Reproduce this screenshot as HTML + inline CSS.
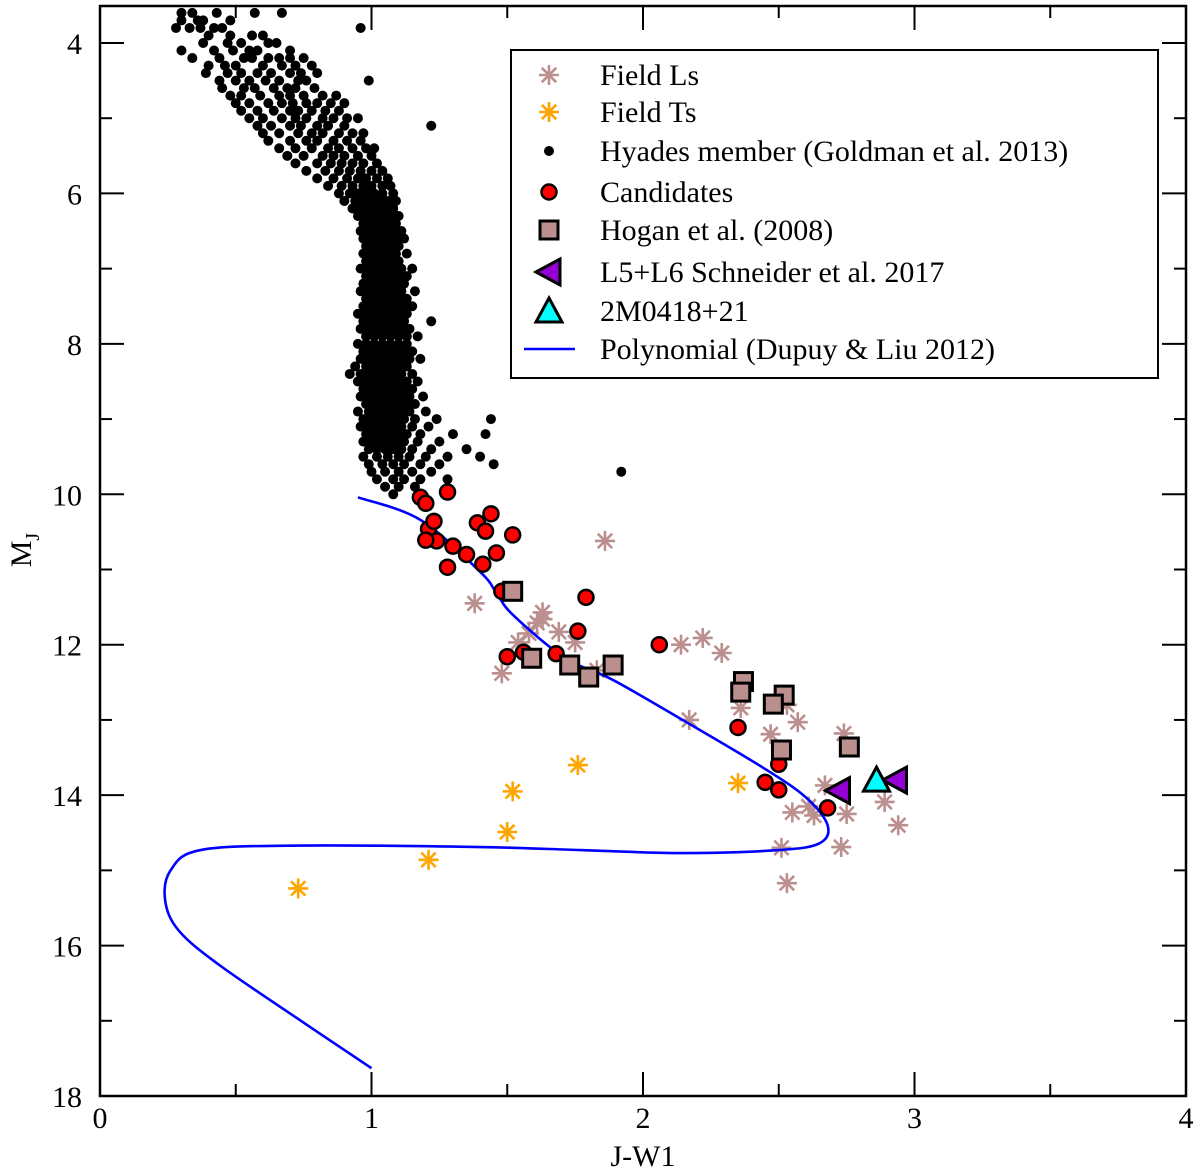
<!DOCTYPE html>
<html><head><meta charset="utf-8"><style>
body{margin:0;background:#fff}
svg{display:block;font-family:"Liberation Serif",serif}
</style></head><body>
<svg id="chart" width="1200" height="1172" viewBox="0 0 1200 1172" xmlns="http://www.w3.org/2000/svg">
<g id="marks"></g>
<g id="axes"></g>
<g id="legend"></g>
</svg>
<script>
const xTicks=[0,1,2,3,4];
const yTicks=[4,6,8,10,12,14,16,18];
const hyadesRows=[
[3.6,0.30,0.34,0.43,0.57,0.67],[3.7,0.30,0.36,0.38,0.48],[3.8,0.28,0.33,0.37,0.42,0.45,0.96],
[3.9,0.40,0.48,0.56,0.60],[4.0,0.38,0.47,0.52,0.62,0.65],[4.1,0.30,0.42,0.49,0.55,0.58,0.70],
[4.2,0.34,0.44,0.53,0.56,0.62,0.66,0.70,0.75],[4.3,0.40,0.46,0.50,0.60,0.67,0.72,0.78],
[4.4,0.39,0.47,0.52,0.58,0.63,0.70,0.74,0.80],[4.5,0.44,0.50,0.55,0.61,0.66,0.73,0.76,0.99],
[4.6,0.45,0.53,0.57,0.64,0.69,0.72,0.79],[4.7,0.48,0.52,0.59,0.66,0.70,0.75,0.82,0.87],
[4.8,0.50,0.55,0.62,0.67,0.71,0.76,0.80,0.85,0.90],[4.9,0.52,0.58,0.64,0.70,0.73,0.78,0.83,0.88],
[5.0,0.55,0.60,0.67,0.72,0.76,0.82,0.86,0.91,0.95],[5.1,0.58,0.63,0.70,0.74,0.80,0.84,0.90,1.22],
[5.2,0.60,0.66,0.73,0.78,0.82,0.88,0.93,0.97],[5.3,0.62,0.70,0.76,0.80,0.86,0.91,0.96],
[5.4,0.66,0.72,0.78,0.84,0.88,0.93,0.98,1.01],[5.5,0.69,0.75,0.82,0.86,0.90,0.95,1.00],
[5.6,0.72,0.80,0.85,0.89,0.93,0.97,1.02],[5.7,0.76,0.83,0.88,0.92,0.96,1.00,1.04],
[5.8,0.80,0.86,0.91,0.95,0.98,1.02,1.06],[5.9,0.84,0.89,0.93,0.97,1.00,1.04,1.07],
[6.0,0.88,0.92,0.95,0.98,1.01,1.04,1.08],[6.1,0.90,0.94,0.97,1.00,1.03,1.06,1.09],
[6.2,0.93,0.96,0.99,1.02,1.05,1.08],[6.3,0.95,0.98,1.01,1.04,1.07,1.10],
[6.4,0.97,1.00,1.03,1.06,1.09],[6.5,0.96,0.99,1.02,1.05,1.08,1.11],
[6.6,0.97,1.00,1.03,1.06,1.09,1.12],[6.7,0.98,1.01,1.04,1.07,1.10],
[6.8,0.97,1.00,1.03,1.06,1.09,1.13],[6.9,0.98,1.01,1.04,1.07,1.10],
[7.0,0.96,0.99,1.02,1.05,1.08,1.11,1.15],[7.1,0.98,1.01,1.04,1.07,1.10,1.13],
[7.2,0.97,1.00,1.03,1.06,1.09,1.12],[7.3,0.96,0.99,1.02,1.05,1.08,1.11,1.16],
[7.4,0.98,1.01,1.04,1.07,1.10,1.13],[7.5,0.97,1.00,1.03,1.06,1.09,1.12,1.15],
[7.6,0.95,0.98,1.01,1.04,1.07,1.10,1.13],[7.7,0.97,1.00,1.03,1.06,1.09,1.12,1.22],
[7.8,0.96,0.99,1.02,1.05,1.08,1.11,1.14],[7.9,0.98,1.01,1.04,1.07,1.10,1.13,1.17],
[8.0,0.95,0.98,1.01,1.04,1.07,1.10,1.13],[8.1,0.97,1.00,1.03,1.06,1.09,1.12,1.15],
[8.2,0.96,0.99,1.02,1.05,1.08,1.11,1.14,1.18],[8.3,0.94,0.98,1.01,1.04,1.07,1.10,1.13],
[8.4,0.92,0.96,0.99,1.02,1.05,1.08,1.11,1.15],[8.5,0.95,0.98,1.01,1.04,1.07,1.10,1.13,1.17],
[8.6,0.97,1.00,1.03,1.06,1.09,1.12,1.15],[8.7,0.96,0.99,1.02,1.05,1.08,1.11,1.14,1.19],
[8.8,0.98,1.01,1.04,1.07,1.10,1.13,1.16],[8.9,0.95,0.99,1.02,1.05,1.08,1.11,1.14,1.20],
[9.0,0.97,1.00,1.03,1.06,1.09,1.12,1.16,1.24,1.44],[9.1,0.96,0.99,1.02,1.05,1.08,1.11,1.15,1.21],
[9.2,0.98,1.01,1.04,1.07,1.10,1.13,1.18,1.30,1.42],[9.3,0.97,1.00,1.03,1.06,1.09,1.12,1.17,1.25],
[9.4,0.99,1.02,1.05,1.08,1.11,1.15,1.22,1.35],[9.5,0.97,1.02,1.06,1.10,1.14,1.20,1.28,1.40],
[9.6,0.99,1.04,1.08,1.12,1.18,1.25,1.45],[9.7,1.00,1.05,1.10,1.15,1.22,1.92],
[9.8,1.02,1.08,1.12,1.18,1.28],[9.9,1.05,1.10,1.16],[10.0,1.08]
];
const candX=[1.18,1.20,1.28,1.44,1.39,1.42,1.52,1.21,1.23,1.24,1.20,1.30,1.35,1.46,1.41,1.28,1.48,1.79,1.76,1.50,1.68,1.56,2.06,2.35,2.50,2.45,2.50,2.68];
const candY=[10.04,10.12,9.97,10.26,10.38,10.49,10.54,10.46,10.36,10.62,10.61,10.69,10.80,10.78,10.93,10.97,11.29,11.37,11.82,12.16,12.12,12.10,12.00,13.10,13.59,13.83,13.93,14.17];
const hoganX=[1.52,1.59,1.73,1.80,1.89,2.37,2.36,2.52,2.48,2.51,2.76];
const hoganY=[11.29,12.18,12.27,12.43,12.27,12.49,12.63,12.67,12.79,13.40,13.36];
const fieldLX=[1.38,1.86,1.48,1.63,1.61,1.69,1.54,1.75,1.58,1.63,1.83,2.14,2.22,2.29,2.17,2.36,2.53,2.57,2.47,2.74,2.67,2.89,2.55,2.61,2.63,2.75,2.94,2.51,2.73,2.53];
const fieldLY=[11.45,10.62,12.38,11.57,11.71,11.83,11.97,11.97,11.85,11.66,12.34,12.00,11.91,12.11,13.00,12.84,12.80,13.03,13.19,13.18,13.87,14.09,14.23,14.15,14.27,14.25,14.40,14.70,14.69,15.17];
const fieldTX=[0.73,1.21,1.50,1.52,1.76,2.35];
const fieldTY=[15.24,14.86,14.49,13.95,13.60,13.84];
const schX=[2.72,2.93];
const schY=[13.94,13.80];
const m0418X=[2.86];
const m0418Y=[13.80];
const polyX=[0.95,1.18,1.40,1.46,1.52,1.71,1.89,2.16,2.44,2.60,2.68,2.65,2.50,2.14,1.77,1.40,0.74,0.37,0.26,0.24,0.29,0.44,0.74,1.00];
const polyY=[10.04,10.34,11.03,11.31,11.60,12.17,12.47,13.03,13.63,14.03,14.40,14.64,14.73,14.77,14.73,14.69,14.67,14.73,15.00,15.40,15.80,16.26,17.00,17.63];

const X0=100,X1=1186,Y0=6,Y1=1096;
const sx=v=>X0+(v-0)/4*(X1-X0);
const sy=v=>43+(v-4)*(1096-43)/14;
const NS="http://www.w3.org/2000/svg";
function mk(tag,attrs,parent){const e=document.createElementNS(NS,tag);for(const k in attrs)e.setAttribute(k,attrs[k]);parent.appendChild(e);return e;}
const marks=document.getElementById('marks'),axes=document.getElementById('axes'),legend=document.getElementById('legend');

function star(g,cx,cy,r,col){
  const s=mk('g',{stroke:col,'stroke-width':2.6},g);
  
  
  mk('line',{x1:cx,y1:cy-r,x2:cx,y2:cy+r},s);
  mk('line',{x1:cx-r,y1:cy,x2:cx+r,y2:cy},s);
  const d=r*0.72;
  mk('line',{x1:cx-d,y1:cy-d,x2:cx+d,y2:cy+d},s);
  mk('line',{x1:cx-d,y1:cy+d,x2:cx+d,y2:cy-d},s);
  return s;
}
function circ(g,cx,cy,r,fill,stroke){const c=mk('circle',{cx:cx,cy:cy,r:r,fill:fill,stroke:stroke||'none','stroke-width':2.5},g);return c;}
function sq(g,cx,cy,fill){return mk('rect',{x:cx-9,y:cy-9,width:18,height:18,fill:fill,stroke:'#000','stroke-width':3},g);}
function ltri(g,cx,cy){return mk('polygon',{points:`${cx-13},${cy} ${cx+11},${cy-13} ${cx+11},${cy+13}`,fill:'#9400d3',stroke:'#000','stroke-width':3},g);}
function utri(g,cx,cy){return mk('polygon',{points:`${cx},${cy-13} ${cx+13},${cy+11} ${cx-13},${cy+11}`,fill:'#00ffff',stroke:'#000','stroke-width':3},g);}

const defs=mk('defs',{},document.getElementById('chart'));
const cp=mk('clipPath',{id:'pc'},defs);
mk('rect',{x:X0,y:Y0,width:X1-X0,height:Y1-Y0},cp);
marks.setAttribute('clip-path','url(#pc)');

const gH=mk('g',{},marks);


hyadesRows.forEach(row=>{for(let i=1;i<row.length;i++){const c=circ(gH,sx(row[i]),sy(row[0]),5,'#000');

}});

const gL=mk('g',{},marks);


fieldLX.forEach((x,i)=>star(gL,sx(x),sy(fieldLY[i]),10,'#bc8f8f'));
const gT=mk('g',{},marks);


fieldTX.forEach((x,i)=>star(gT,sx(x),sy(fieldTY[i]),10,'#ffa500'));

let pd='';
const P=polyX.map((x,i)=>[sx(x),sy(polyY[i])]);
pd='M'+P[0][0]+','+P[0][1];
for(let i=0;i<P.length-1;i++){
  const p0=P[Math.max(i-1,0)],p1=P[i],p2=P[i+1],p3=P[Math.min(i+2,P.length-1)];
  const c1=[p1[0]+(p2[0]-p0[0])/6,p1[1]+(p2[1]-p0[1])/6];
  const c2=[p2[0]-(p3[0]-p1[0])/6,p2[1]-(p3[1]-p1[1])/6];
  pd+=` C${c1[0]},${c1[1]} ${c2[0]},${c2[1]} ${p2[0]},${p2[1]}`;
}
const poly=mk('path',{d:pd,fill:'none',stroke:'#0000ff','stroke-width':2.6},marks);



const gC=mk('g',{},marks);


candX.forEach((x,i)=>{circ(gC,sx(x),sy(candY[i]),7.5,'#ff0000','#000');});
const gHo=mk('g',{},marks);


hoganX.forEach((x,i)=>sq(gHo,sx(x),sy(hoganY[i]),'#bc8f8f'));
const gS=mk('g',{},marks);


schX.forEach((x,i)=>ltri(gS,sx(x),sy(schY[i])));
const gM=mk('g',{},marks);


m0418X.forEach((x,i)=>utri(gM,sx(x),sy(m0418Y[i])));

const fr=mk('rect',{x:X0,y:Y0,width:X1-X0,height:Y1-Y0,fill:'none',stroke:'#000','stroke-width':2.5},axes);


for(let v=0;v<=4.001;v+=0.5){
  const X=sx(v),L=Math.abs(v-Math.round(v))<1e-6?24:12;
  mk('line',{x1:X,y1:Y1,x2:X,y2:Y1-L,stroke:'#000','stroke-width':2},axes);
  mk('line',{x1:X,y1:Y0,x2:X,y2:Y0+L,stroke:'#000','stroke-width':2},axes);
}
for(let v=4;v<=18;v++){
  const Y=sy(v),L=v%2===0?24:12;
  mk('line',{x1:X0,y1:Y,x2:X0+L,y2:Y,stroke:'#000','stroke-width':2},axes);
  mk('line',{x1:X1,y1:Y,x2:X1-L,y2:Y,stroke:'#000','stroke-width':2},axes);
}
xTicks.forEach(v=>{const t=mk('text',{x:sx(v),y:1128,'text-anchor':'middle','font-size':30},axes);t.textContent=v;

});
yTicks.forEach(v=>{const t=mk('text',{x:82,y:sy(v)+11,'text-anchor':'end','font-size':30},axes);t.textContent=v;

});
const xt=mk('text',{x:643,y:1166,'text-anchor':'middle','font-size':30},axes);xt.textContent='J-W1';


const yt=mk('text',{transform:'translate(31,550) rotate(-90)','text-anchor':'middle','font-size':30},axes);
yt.innerHTML='M<tspan font-size="20" dy="8">J</tspan>';



const lb=mk('rect',{x:511,y:50,width:647,height:328,fill:'#fff',stroke:'#000','stroke-width':2},legend);


const labels=['Field Ls','Field Ts','Hyades member (Goldman et al. 2013)','Candidates','Hogan et al. (2008)','L5+L6 Schneider et al. 2017','2M0418+21','Polynomial (Dupuy & Liu 2012)'];
const ly=[75,112,151,192,230,272,311,349];
labels.forEach((s,i)=>{
  const g=mk('g',{},legend);
  
  
  const cx=549,cy=ly[i];
  if(i===0)star(g,cx,cy,10,'#bc8f8f');
  if(i===1)star(g,cx,cy,10,'#ffa500');
  if(i===2)circ(g,cx,cy,5,'#000');
  if(i===3)circ(g,cx,cy,7.5,'#ff0000','#000');
  if(i===4)sq(g,cx,cy,'#bc8f8f');
  if(i===5)ltri(g,cx,cy);
  if(i===6)utri(g,cx,cy);
  if(i===7)mk('line',{x1:524,y1:cy,x2:575,y2:cy,stroke:'#0000ff','stroke-width':2.6},g);
  const t=mk('text',{x:600,y:cy+10,'font-size':30},g);t.textContent=s;
});
</script>
</body></html>
